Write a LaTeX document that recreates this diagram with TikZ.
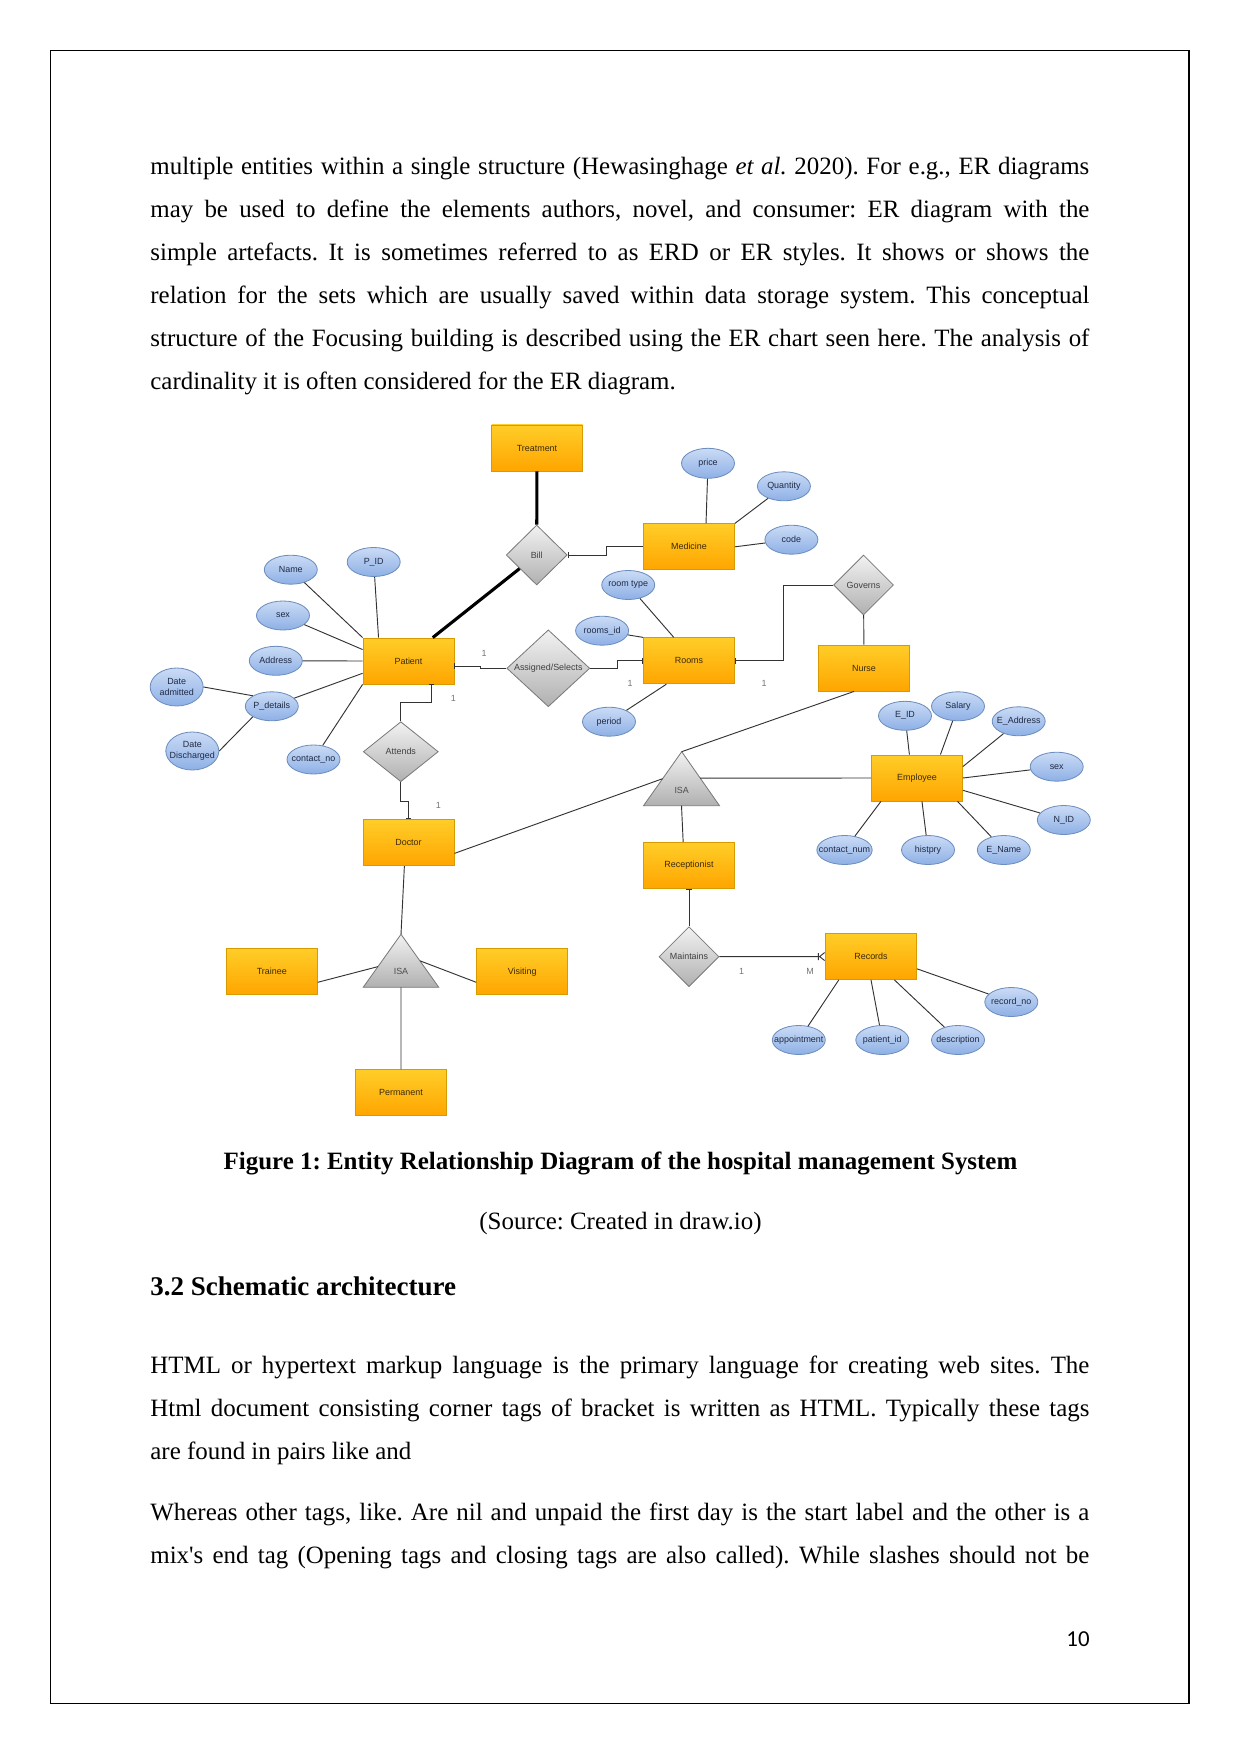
\documentclass[tikz,border=0pt]{standalone}
\usepackage{fontspec}
\setmainfont{Liberation Serif}
\newfontfamily\erfont{Liberation Sans}
\newfontfamily\numfont{Carlito}
\usetikzlibrary{arrows.meta,shapes.geometric,calc}
\definecolor{entitytop}{HTML}{FFCD28}
\definecolor{entitybot}{HTML}{FFA500}
\definecolor{entityline}{HTML}{D79B00}
\definecolor{entitytext}{HTML}{3A2A08}
\definecolor{attrtop}{HTML}{CADBF5}
\definecolor{attrbot}{HTML}{8EB0E6}
\definecolor{attrline}{HTML}{6C8EBF}
\definecolor{attrtext}{HTML}{1F2A44}
\definecolor{reltop}{HTML}{F2F2F2}
\definecolor{relbot}{HTML}{B0B0B0}
\definecolor{relline}{HTML}{7A7A7A}
\newlength{\erpx}\setlength{\erpx}{0.16922mm}
\newcommand{\erfs}{\erfont\fontsize{4.3}{5.2}\selectfont}
\frenchspacing
\tikzset{
  erbar/.tip={Bar[width=1mm]},
  erfoot/.tip={Bar[width=1.2mm] Straight Barb[reversed,length=0.85mm,width=1.35mm]}
}

\begin{document}
\begin{tikzpicture}[x=0.16922mm,y=-0.16922mm,
  entity/.style={rectangle,draw=entityline,line width=0.4pt,top color=entitytop,bottom color=entitybot,
    minimum width=91\erpx,minimum height=46\erpx,inner sep=0pt,font=\erfs,text=entitytext},
  attr/.style={ellipse,draw=attrline,line width=0.4pt,top color=attrtop,bottom color=attrbot,
    minimum width=53\erpx,minimum height=29\erpx,inner xsep=-6\erpx,inner ysep=0pt,align=center,font=\erfs,text=attrtext},
  rel/.style={diamond,draw=relline,line width=0.4pt,top color=reltop,bottom color=relbot,
    minimum width=60\erpx,minimum height=60\erpx,inner sep=0pt,font=\erfs,text=black!75},
  isa/.style={draw=relline,line width=0.4pt,top color=reltop,bottom color=relbot},
  isatext/.style={inner sep=0pt,font=\erfs,text=black!70},
  link/.style={draw=black!80,line width=0.45pt},
  heavy/.style={draw=black,line width=1.5pt},
  card/.style={inner sep=0pt,font=\erfs,text=black!55},
  body/.style={inner sep=0pt,anchor=north west,text width=939\erpx,align=justify,font=\fontsize{12}{20.7}\selectfont}]
  \useasboundingbox (0,0) rectangle (1241,1754);
  \draw[line width=0.6pt] (50.7,50.7) rectangle (1189,1703.3);

  % text above the figure
  \node[body] (para1) at (150,143.9) {\hyphenpenalty=10000\strut multiple entities within a single structure (Hewasinghage \textit{et al.} 2020). For e.g., ER diagrams\linebreak
    may be used to define the elements authors, novel, and consumer: ER diagram with the\linebreak
    simple artefacts. It is sometimes referred to as ERD or ER styles. It shows or shows the\linebreak
    relation for the sets which are usually saved within data storage system. This conceptual\linebreak
    structure of the Focusing building is described using the ER chart seen here. The analysis of\linebreak
    cardinality it is often considered for the ER diagram.};

  % entities
  \node[entity] (treat) at (537,448) {Treatment};
  \node[entity] (patient) at (408.5,661) {Patient};
  \node[entity] (medicine) at (689,546.8) {Medicine};
  \node[entity] (rooms) at (689,660.8) {Rooms};
  \node[entity] (nurse) at (864,668) {Nurse};
  \node[entity] (employee) at (917,778) {Employee};
  \node[entity] (doctor) at (408.5,842.8) {Doctor};
  \node[entity] (recep) at (689,865.3) {Receptionist};
  \node[entity] (records) at (871,956.5) {Records};
  \node[entity] (trainee) at (271.8,971.7) {Trainee};
  \node[entity] (visiting) at (522.2,971.7) {Visiting};
  \node[entity] (perm) at (401,1092.7) {Permanent};

  % relationships
  \node[rel,minimum width=61\erpx] (bill) at (536.7,555) {Bill};
  \node[rel,minimum width=83\erpx,minimum height=75\erpx] (assign) at (548.3,668.3) {Assigned/Selects};
  \node[rel,minimum width=75\erpx] (attends) at (400.8,751.7) {Attends};
  \node[rel] (governs) at (863.5,585) {Governs};
  \node[rel] (maintains) at (689,956.7) {Maintains};

  % ISA triangles
  \coordinate (isa1) at (681.7,751.7);
  \coordinate (isa1bl) at (643.5,805.7);
  \coordinate (isa1br) at (719.5,805.7);
  \path[isa] (isa1) -- (isa1br) -- (isa1bl) -- cycle;
  \node[isatext] (isa1lbl) at (681.7,790) {ISA};
  \coordinate (isa2) at (401,934.3);
  \coordinate (isa2bl) at (363.2,987.3);
  \coordinate (isa2br) at (438.8,987.3);
  \path[isa] (isa2) -- (isa2br) -- (isa2bl) -- cycle;
  \node[isatext] (isa2lbl) at (401,971.7) {ISA};

  % attributes
  \node[attr] (name) at (290.8,569.7) {Name};
  \node[attr] (pid) at (373.7,562) {P\_ID};
  \node[attr] (sexp) at (283,615.5) {sex};
  \node[attr] (address) at (275.8,660.8) {Address};
  \node[attr,minimum height=38\erpx] (dadm) at (176.7,687) {Date\\admitted};
  \node[attr] (pdet) at (271.8,706.3) {P\_details};
  \node[attr,minimum height=38\erpx] (ddis) at (192.3,751) {Date\\Discharged};
  \node[attr] (contno) at (313.5,759.5) {contact\_no};
  \node[attr,minimum height=30\erpx] (price) at (708,463.3) {price};
  \node[attr] (qty) at (783.9,486.3) {Quantity};
  \node[attr] (code) at (791.4,539.7) {code};
  \node[attr] (rtype) at (628.2,585) {room type};
  \node[attr] (rid) at (602.1,630.7) {rooms\_id};
  \node[attr] (period) at (609,721.7) {period};
  \node[attr] (eid) at (905,715.8) {E\_ID};
  \node[attr] (salary) at (958,706.3) {Salary};
  \node[attr] (eaddr) at (1018.7,721.3) {E\_Address};
  \node[attr] (sexe) at (1056.7,766.7) {sex};
  \node[attr] (nid) at (1063.8,820) {N\_ID};
  \node[attr] (ename) at (1003.8,850) {E\_Name};
  \node[attr] (hist) at (928,850) {histpry};
  \node[attr] (contnum) at (844.5,850) {contact\_num};
  \node[attr] (appt) at (798.8,1040) {appointment};
  \node[attr] (patid) at (882.3,1040) {patient\_id};
  \node[attr] (desc) at (958,1040) {description};
  \node[attr] (recno) at (1011.3,1002) {record\_no};

  % attribute links
  \draw[link] (name) -- (patient.north west);
  \draw[link] (pid) -- (patient.142);
  \draw[link] (sexp) -- (patient.166);
  \draw[link] (address) -- (patient.west);
  \draw[link] (pdet) -- (patient.195);
  \draw[link] (contno) -- (patient.south west);
  \draw[link] (dadm.east) -- (pdet.north west);
  \draw[link] (ddis.east) -- (pdet.south west);
  \draw[link] (price) -- (medicine.54);
  \draw[link] (qty) -- (medicine.north east);
  \draw[link] (code) -- (medicine.east);
  \draw[link] (rtype) -- (rooms.123);
  \draw[link] (rid) -- (rooms.north west);
  \draw[link] (period) -- (rooms.226);
  \draw[link] (eid) -- (employee.108);
  \draw[link] (salary) -- (employee.45);
  \draw[link] (eaddr) -- (employee.14);
  \draw[link] (sexe) -- (employee.east);
  \draw[link] (nid) -- (employee.345);
  \draw[link] (ename) -- (employee.330);
  \draw[link] (hist) -- (employee.282);
  \draw[link] (contnum) -- (employee.213);
  \draw[link] (appt) -- (records.216);
  \draw[link] (patid) -- (records.south);
  \draw[link] (desc) -- (records.315);
  \draw[link] (recno) -- (records.345);

  % relationship links
  \draw[heavy] (treat) -- (bill);
  \draw[heavy] (bill) -- (patient.44);
  \draw[link,erbar-] (bill.east) -- ++(38.5,0) |- (medicine.west);
  \draw[link,erbar-] ($(patient.east)+(0,5)$) -- ++(26,0) |- (assign.west);
  \draw[link,-erbar] (assign.east) -- ++(27,0) |- (rooms.west);
  \draw[link,erbar-] (rooms.east) -- ++(48.7,0) |- (governs.west);
  \draw[link] (governs) -- (nurse);
  \draw[link,-erbar] (attends.north) -- ++(0,-19) -| ($(patient.south)+(23,0)$);
  \draw[link,-erbar] (attends.south) -- ++(0,19) -| (doctor.north);
  \draw[link,erbar-] (recep) -- (maintains);
  \draw[link,-erfoot] (maintains) -- (records);

  % ISA links
  \draw[link] (doctor.347) -- ($(isa1)!.5!(isa1bl)$);
  \draw[link] (nurse.247) -- (isa1);
  \draw[link] ($(isa1)!.49!(isa1br)$) -- (employee.west);
  \draw[link] ($(isa1bl)!.5!(isa1br)$) -- (recep.104);
  \draw[link] (doctor.260) -- (isa2);
  \draw[link] (trainee.347) -- ($(isa2)!.61!(isa2bl)$);
  \draw[link] ($(isa2)!.5!(isa2br)$) -- (visiting.193);
  \draw[link] ($(isa2bl)!.5!(isa2br)$) -- (perm.north);

  % cardinalities
  \node[card] (cpa) at (484,653.3) {1};
  \node[card] (cpt) at (453.3,698.3) {1};
  \node[card] (cra) at (630.2,683.3) {1};
  \node[card] (crg) at (764.2,683.3) {1};
  \node[card] (cdo) at (438.3,805) {1};
  \node[card] (cmo) at (741.7,971.7) {1};
  \node[card] (cmm) at (810,971.7) {M};

  % caption and text below the figure
  \node[anchor=base,inner sep=0pt,font=\bfseries\fontsize{12}{14}\selectfont] (figcap) at (620.5,1169.3) {Figure 1: Entity Relationship Diagram of the hospital management System};
  \node[anchor=base,inner sep=0pt,font=\fontsize{12}{14}\selectfont] (figsrc) at (620.5,1229.5) {(Source: Created in draw.io)};
  \node[anchor=base west,inner sep=0pt,font=\bfseries\fontsize{13}{15}\selectfont] (sechead) at (150,1295) {3.2 Schematic architecture};
  \node[body] (para2) at (150,1343.2) {\hyphenpenalty=10000\strut HTML or hypertext markup language is the primary language for creating web sites. The\linebreak
    Html document consisting corner tags of bracket is written as HTML. Typically these tags\linebreak
    are found in pairs like and};
  \node[body] (para3) at (150,1490) {\hyphenpenalty=10000\parfillskip=0pt\strut Whereas other tags, like. Are nil and unpaid the first day is the start label and the other is a\linebreak
    mix\textquotesingle s end tag (Opening tags and closing tags are also called). While slashes should not be\par};
  \node[anchor=base east,inner sep=0pt,font=\numfont\fontsize{11}{13}\selectfont] (pagenum) at (1090,1646) {10};
\end{tikzpicture}
\end{document}
